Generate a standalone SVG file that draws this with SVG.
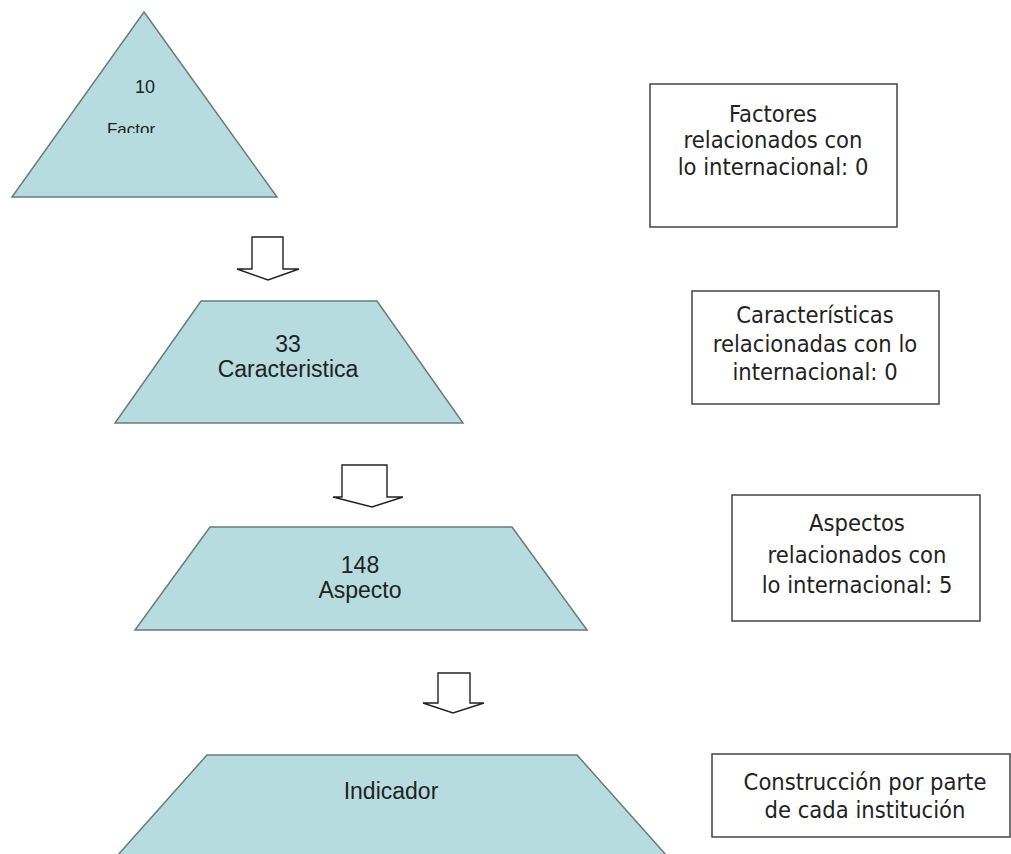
<svg xmlns="http://www.w3.org/2000/svg" width="1011" height="854" viewBox="0 0 1011 854">
<style>
.shape{fill:#b6dce0;stroke:#6e7a7a;stroke-width:1.5}
.arrow{fill:#fff;stroke:#222;stroke-width:1.4;stroke-linejoin:miter}
.box{fill:#fff;stroke:#444;stroke-width:1.5}
.st{font-family:"Liberation Sans",Arial,sans-serif;font-size:23px;fill:#222;text-anchor:middle}
.bt{font-family:"DejaVu Sans Condensed","DejaVu Sans",sans-serif;font-size:23.5px;fill:#222;text-anchor:middle}
</style>
<defs>
<clipPath id="fclip"><rect x="0" y="0" width="300" height="133"/></clipPath>
</defs>
<rect width="1011" height="854" fill="#fff"/>
<g id="factor">
<polygon class="shape" points="144,12 277,197 12,197"/>
<text class="st" x="145" y="93" style="font-size:18px">10</text>
<text class="st" x="131" y="135" style="font-size:17px" clip-path="url(#fclip)">Factor</text>
</g>
<g id="caracteristica">
<polygon class="shape" points="201,301 377,301 463,423 115,423"/>
<text class="st" x="288" y="352">33</text>
<text class="st" x="288" y="377">Caracteristica</text>
</g>
<g id="aspecto">
<polygon class="shape" points="210,527 512,527 587,630 135,630"/>
<text class="st" x="360" y="573">148</text>
<text class="st" x="360" y="598">Aspecto</text>
</g>
<g id="indicador">
<polygon class="shape" points="207,755 577,755 667,856 117,856"/>
<text class="st" x="391" y="799">Indicador</text>
</g>
<g id="connectors">
<polygon class="arrow" points="252,237 283,237 283,269 299,269 268,280 237,269 252,269"/>
<polygon class="arrow" points="342,465 387,465 387,497 403,497 372,507 333,497 342,497"/>
<polygon class="arrow" points="438,673 470,673 470,703 484,703 453,713 423,703 438,703"/>
</g>
<g id="box-factores">
<rect class="box" x="650" y="84" width="247" height="143"/>
<text class="bt" x="773" y="122">Factores</text>
<text class="bt" x="773" y="148">relacionados con</text>
<text class="bt" x="773" y="175">lo internacional: 0</text>
</g>
<g id="box-caracteristicas">
<rect class="box" x="692" y="291" width="247" height="113"/>
<text class="bt" x="815" y="323">Características</text>
<text class="bt" x="815" y="352">relacionadas con lo</text>
<text class="bt" x="815" y="380">internacional: 0</text>
</g>
<g id="box-aspectos">
<rect class="box" x="732" y="495" width="248" height="126"/>
<text class="bt" x="857" y="531">Aspectos</text>
<text class="bt" x="857" y="563">relacionados con</text>
<text class="bt" x="857" y="593">lo internacional: 5</text>
</g>
<g id="box-construccion">
<rect class="box" x="712" y="754" width="298" height="83"/>
<text class="bt" x="865" y="790">Construcción por parte</text>
<text class="bt" x="865" y="818">de cada institución</text>
</g>
</svg>
